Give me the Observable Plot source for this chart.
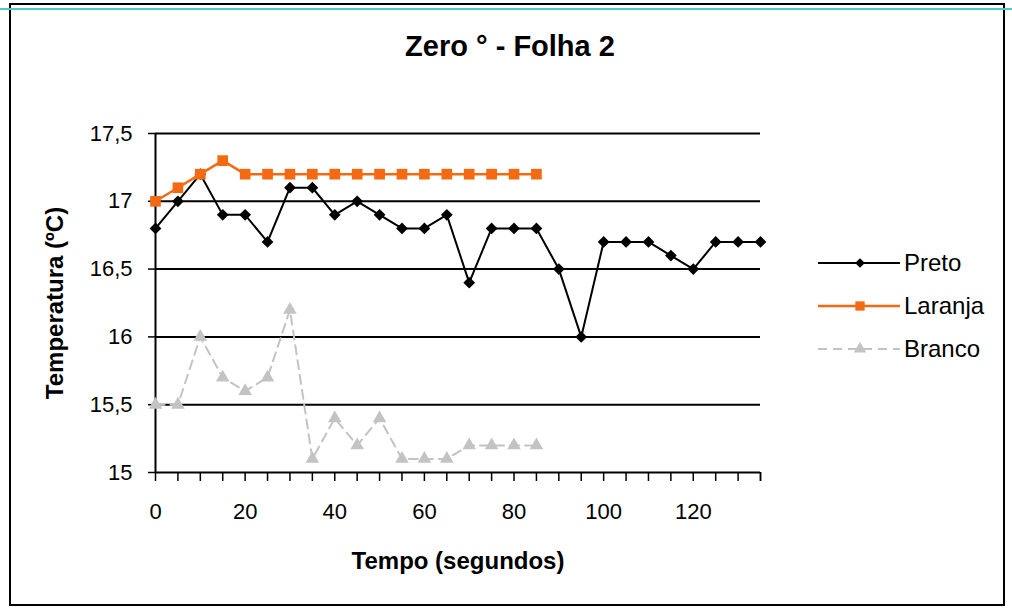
<!DOCTYPE html>
<html><head><meta charset="utf-8">
<script src="https://cdn.jsdelivr.net/npm/d3@7"></script>
<script src="https://cdn.jsdelivr.net/npm/@observablehq/plot@0.6"></script>
<style>
body{margin:0;background:#fff;}
#wrap{position:relative;width:1012px;height:615px;font-family:"Liberation Sans",Arial,sans-serif;overflow:hidden;}
#wrap svg{position:absolute;left:0;top:0;}
#frame{position:absolute;left:9px;top:3px;width:992px;height:599px;border:2.5px solid #000;box-sizing:content-box;pointer-events:none;}
#cyan{position:absolute;left:0;top:8px;width:1012px;height:1.5px;background:#4cc7d0;}
</style></head><body><div id="wrap"><div id="frame"></div><div id="cyan"></div></div>
<script>
const time = [0,5,10,15,20,25,30,35,40,45,50,55,60,65,70,75,80,85,90,95,100,105,110,115,120,125,130,135];
const preto = [16.8,17.0,17.2,16.9,16.9,16.7,17.1,17.1,16.9,17.0,16.9,16.8,16.8,16.9,16.4,16.8,16.8,16.8,16.5,16.0,16.7,16.7,16.7,16.6,16.5,16.7,16.7,16.7];
const laranja = [17.0,17.1,17.2,17.3,17.2,17.2,17.2,17.2,17.2,17.2,17.2,17.2,17.2,17.2,17.2,17.2,17.2,17.2];
const branco = [15.5,15.5,16.0,15.7,15.6,15.7,16.2,15.1,15.4,15.2,15.4,15.1,15.1,15.1,15.2,15.2,15.2,15.2];
const xTicks = [0,20,40,60,80,100,120];
const yTicks = [15,15.5,16,16.5,17,17.5];
const seriesNames = ["Preto","Laranja","Branco"];
const titleText = "Zero ° - Folha 2";
const xLabel = "Tempo (segundos)";
const yLabel = "Temperatura (ºC)";

const toRows = vals => vals.map((v,i)=>({t:time[i], v}));
const rowsP = toRows(preto), rowsL = toRows(laranja), rowsB = toRows(branco);
const fmt = d => String(d).replace(".", ",");
const FONT = '"Liberation Sans", Arial, sans-serif';
const ORANGE = "#f46a12", GRAY = "#c3c3c3";

const chart = Plot.plot({
  width: 1012, height: 615,
  marginLeft: 155, marginRight: 252, marginTop: 133, marginBottom: 143,
  style: {fontFamily: FONT, background: "transparent", color: "#000", overflow: "visible"},
  x: {domain: [0, 135]},
  y: {domain: [15, 17.5]},
  marks: [
    Plot.ruleY(yTicks, {stroke: "#000", strokeWidth: 2}),
    Plot.ruleX([0], {stroke: "#000", strokeWidth: 2}),
    Plot.axisY(yTicks, {tickSize: 7, tickPadding: 16, tickFormat: fmt, fontSize: 22, label: null, strokeWidth: 1.5}),
    Plot.axisX(time.concat([135]), {tickSize: 9, tickFormat: () => "", label: null, strokeWidth: 1.5}),
    Plot.axisX(xTicks, {tickSize: 0, tickPadding: 31, fontSize: 22, label: null}),
    Plot.text([titleText], {frameAnchor: "top", dx: 52, dy: -98, fontSize: 29, fontWeight: "bold", fill: "#000"}),
    Plot.text([xLabel], {frameAnchor: "bottom", dy: 96, fontSize: 24, fontWeight: "bold", fill: "#000"}),
    Plot.text([yLabel], {frameAnchor: "left", textAnchor: "middle", dx: -100, rotate: -90, fontSize: 24, fontWeight: "bold", fill: "#000"}),
    Plot.line(rowsB, {x: "t", y: "v", stroke: GRAY, strokeWidth: 2, strokeDasharray: "9,6"}),
    Plot.dot(rowsB, {x: "t", y: "v", symbol: "triangle2", r: 6.5, fill: GRAY}),
    Plot.line(rowsP, {x: "t", y: "v", stroke: "#000", strokeWidth: 2}),
    Plot.dot(rowsP, {x: "t", y: "v", symbol: "diamond2", r: 5.3, fill: "#000"}),
    Plot.line(rowsL, {x: "t", y: "v", stroke: ORANGE, strokeWidth: 2.5}),
    Plot.dot(rowsL, {x: "t", y: "v", symbol: "square2", r: 6.8, fill: ORANGE})
  ]
});
const wrap = document.getElementById("wrap");
wrap.insertBefore(chart, wrap.firstChild);

// legend
const leg = d3.select(wrap).append("svg").attr("width", 200).attr("height", 130)
  .style("left", "810px").style("top", "235px").style("position","absolute");
const styles = [
  {stroke: "#000", dash: null, sym: d3.symbolDiamond2, size: 60, fill: "#000", w: 2},
  {stroke: ORANGE, dash: null, sym: d3.symbolSquare2, size: 110, fill: ORANGE, w: 2.5},
  {stroke: GRAY, dash: "9,6", sym: d3.symbolTriangle2, size: 110, fill: GRAY, w: 2}
];
seriesNames.forEach((name, i) => {
  const y = 28 + i * 43;
  const s = styles[i];
  leg.append("line").attr("x1", 8).attr("x2", 90).attr("y1", y).attr("y2", y)
    .attr("stroke", s.stroke).attr("stroke-width", s.w).attr("stroke-dasharray", s.dash);
  leg.append("path").attr("d", d3.symbol(s.sym, s.size)()).attr("transform", `translate(50,${y})`).attr("fill", s.fill);
  leg.append("text").attr("x", 94).attr("y", y + 8).attr("font-size", 24).attr("font-family", FONT).text(name);
});
</script>
</body></html>
